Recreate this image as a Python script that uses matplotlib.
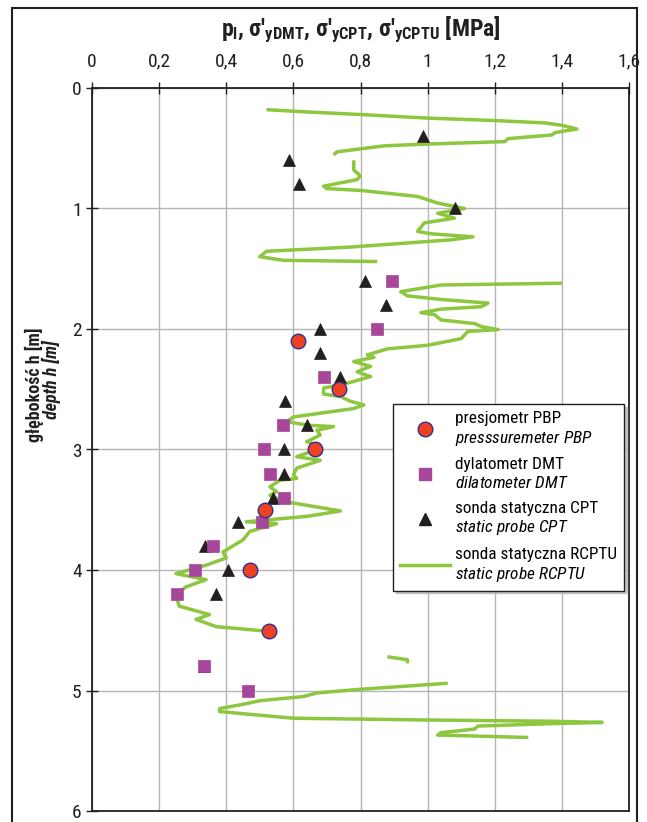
import matplotlib
matplotlib.use('Agg')
import matplotlib.pyplot as plt
from matplotlib.lines import Line2D
from matplotlib.patches import Rectangle

FONT = ['Roboto Condensed', 'DejaVu Sans']
plt.rcParams['font.family'] = FONT
plt.rcParams['mathtext.fontset'] = 'custom'
plt.rcParams['mathtext.rm'] = 'Roboto Condensed'
plt.rcParams['mathtext.it'] = 'Roboto Condensed:italic'
plt.rcParams['mathtext.bf'] = 'Roboto Condensed:bold'

# ---------------- data ----------------
xticks = [0, 0.2, 0.4, 0.6, 0.8, 1.0, 1.2, 1.4, 1.6]
xtick_labels = ['0', '0,2', '0,4', '0,6', '0,8', '1', '1,2', '1,4', '1,6']
yticks = [0, 1, 2, 3, 4, 5, 6]
ytick_labels = ['0', '1', '2', '3', '4', '5', '6']

pbp_depth = [2.1, 2.5, 3.0, 3.5, 4.0, 4.51]
pbp_value = [0.615, 0.737, 0.665, 0.514, 0.472, 0.527]

dmt_depth = [1.6, 2.0, 2.4, 2.8, 3.0, 3.2, 3.4, 3.6, 3.8, 4.0, 4.2, 4.8, 5.0]
dmt_value = [0.895, 0.85, 0.69, 0.57, 0.513, 0.53, 0.572, 0.507, 0.362, 0.308, 0.254, 0.335, 0.465]

cpt_depth = [0.4, 0.6, 0.8, 1.0, 1.6, 1.8, 2.0, 2.2, 2.4, 2.6, 2.8, 3.0, 3.2, 3.4, 3.6, 3.8, 4.0, 4.2, 4.8]
cpt_value = [0.987, 0.587, 0.618, 1.083, 0.814, 0.877, 0.678, 0.678, 0.740, 0.576, 0.641, 0.572, 0.572,
             0.538, 0.435, 0.337, 0.404, 0.368, 0.335]

rcptu_h1 = [0.18, 0.20, 0.22, 0.25, 0.27, 0.29, 0.31, 0.34, 0.37, 0.39, 0.42, 0.445, 0.465, 0.48, 0.53, 0.555]
rcptu_v1 = [0.52, 0.65, 0.80, 1.00, 1.20, 1.35, 1.40, 1.445, 1.38, 1.37, 1.24, 1.23, 1.00, 0.87, 0.73, 0.72]

rcptu_h2 = [0.60, 0.68, 0.73, 0.76, 0.815, 0.835, 0.85, 0.90, 0.955, 1.0, 1.04, 1.08, 1.12, 1.19, 1.21,
            1.235, 1.26, 1.32, 1.355, 1.40, 1.43, 1.44]
rcptu_v2 = [0.78, 0.78, 0.80, 0.79, 0.69, 0.70, 0.80, 0.97, 1.03, 1.11, 1.03, 1.08, 0.99, 0.97, 1.01,
            1.135, 1.07, 0.77, 0.52, 0.50, 0.57, 0.85]

rcptu_h3 = [1.62, 1.635, 1.69, 1.725, 1.755, 1.785, 1.815, 1.835, 1.865, 1.88, 1.925, 1.955, 1.98, 2.005,
            2.02, 2.08, 2.135, 2.165, 2.215, 2.235, 2.27, 2.31, 2.355, 2.395, 2.45, 2.49, 2.54, 2.56,
            2.60, 2.63, 2.66, 2.73, 2.77, 2.80, 2.81, 2.84, 2.88, 2.935, 2.965, 3.0, 3.03, 3.06, 3.09,
            3.155, 3.21, 3.24, 3.255, 3.31, 3.35, 3.38, 3.43, 3.51, 3.555, 3.60, 3.615, 3.64, 3.68,
            3.75, 3.85, 3.90, 3.96, 4.03, 4.08, 4.14, 4.21, 4.30, 4.37, 4.41, 4.47, 4.505]
rcptu_v3 = [1.40, 1.04, 0.92, 0.94, 1.04, 1.18, 1.16, 1.04, 0.98, 1.02, 1.04, 1.14, 1.16, 1.21,
            1.12, 1.10, 1.00, 0.88, 0.82, 0.84, 0.78, 0.83, 0.79, 0.83, 0.76, 0.69, 0.69, 0.74,
            0.77, 0.81, 0.78, 0.60, 0.58, 0.65, 0.72, 0.67, 0.68, 0.64, 0.67, 0.66, 0.64, 0.61, 0.68,
            0.61, 0.60, 0.61, 0.56, 0.53, 0.55, 0.53, 0.57, 0.74, 0.64, 0.46, 0.55, 0.52, 0.47,
            0.45, 0.39, 0.40, 0.34, 0.25, 0.34, 0.28, 0.25, 0.26, 0.35, 0.31, 0.37, 0.51]

rcptu_h4 = [4.72, 4.745, 4.775]
rcptu_v4 = [0.88, 0.94, 0.94]

rcptu_h5 = [4.94, 4.99, 5.02, 5.05, 5.085, 5.12, 5.15, 5.175, 5.21, 5.23, 5.245, 5.255, 5.265, 5.275,
            5.295, 5.32, 5.35, 5.37, 5.38, 5.39]
rcptu_v5 = [1.06, 0.80, 0.67, 0.63, 0.50, 0.44, 0.38, 0.38, 0.52, 0.60, 1.00, 1.37, 1.52, 1.37,
            1.15, 1.14, 1.04, 1.03, 1.17, 1.30]

rcptu_segments = [(rcptu_v1, rcptu_h1), (rcptu_v2, rcptu_h2), (rcptu_v3, rcptu_h3),
                  (rcptu_v4, rcptu_h4), (rcptu_v5, rcptu_h5)]

labels = ["presjometr PBP\n$\\mathit{presssuremeter\\ PBP}$",
          "dylatometr DMT\n$\\mathit{dilatometer\\ DMT}$",
          "sonda statyczna CPT\n$\\mathit{static\\ probe\\ CPT}$",
          "sonda statyczna RCPTU\n$\\mathit{static\\ probe\\ RCPTU}$"]

# ---------------- styles ----------------
GREEN = '#8dc63f'
RED = '#ee4023'
BLUE = '#2e3192'
PURPLE = '#a6479b'
BLACK = '#231f20'
GRID = '#b5b5b5'

W, H = 647, 822
fig = plt.figure(figsize=(W / 100, H / 100), dpi=100)
ax = fig.add_axes([92 / W, 1 - 811 / H, (629 - 92) / W, (811 - 88) / H])

ax.set_xlim(0, 1.6)
ax.set_ylim(6, 0)
ax.set_xticks(xticks)
ax.set_xticklabels(xtick_labels)
ax.set_yticks(yticks)
ax.set_yticklabels(ytick_labels)
ax.xaxis.tick_top()
ax.tick_params(axis='x', direction='inout', length=9, width=1, pad=8, labelsize=14, color=BLACK,
               labelcolor=BLACK)
ax.tick_params(axis='y', direction='inout', length=9, width=1, pad=3, labelsize=14, color=BLACK,
               labelcolor=BLACK)
ax.grid(True, color=GRID, lw=1.0)
ax.set_axisbelow(True)
for s in ax.spines.values():
    s.set_color(BLACK)
    s.set_linewidth(1.3)

for v, h in rcptu_segments:
    ax.plot(v, h, color=GREEN, lw=2.5, solid_joinstyle='round', solid_capstyle='butt', zorder=2)

ax.plot(cpt_value, cpt_depth, ls='none', marker='^', ms=9, mfc=BLACK, mec=BLACK, mew=0.5, zorder=3)
ax.plot(dmt_value, dmt_depth, ls='none', marker='s', ms=8, mfc=PURPLE, mec=PURPLE, mew=0.5, zorder=3)
ax.plot(pbp_value, pbp_depth, ls='none', marker='o', ms=10.5, mfc=RED, mec=BLUE, mew=1.0, zorder=4)

handles = [
    Line2D([], [], ls='none', marker='o', ms=10.5, mfc=RED, mec=BLUE, mew=1.0),
    Line2D([], [], ls='none', marker='s', ms=8, mfc=PURPLE, mec=PURPLE),
    Line2D([], [], ls='none', marker='^', ms=9, mfc=BLACK, mec=BLACK),
    Line2D([], [], color=GREEN, lw=2.5),
]
leg = ax.legend(handles, labels, loc='upper left', bbox_to_anchor=(0.5605, 0.563),
                frameon=True, fancybox=False, shadow={'color': '0.7', 'alpha': 0.7},
                fontsize=12.4, borderpad=0.4, labelspacing=0.56, handlelength=2.9,
                handletextpad=0.3, borderaxespad=0)
leg.get_frame().set_edgecolor(BLACK)
leg.get_frame().set_linewidth(1.0)
leg.get_frame().set_alpha(1)

# title
fig.text((92 + 629) / 2 / W, 1 - 30 / H,
         "p$_{\\mathbf{l}}$, σ'$_{\\mathbf{yDMT}}$, σ'$_{\\mathbf{yCPT}}$, σ'$_{\\mathbf{yCPTU}}$ [MPa]",
         ha='center', va='center', fontsize=17, fontweight='bold', color=BLACK)

# y label (two lines)
fig.text(34 / W, 1 - 385 / H, "głębokość h [m]", rotation=90, ha='center', va='center',
         fontsize=13, fontweight='bold', color=BLACK)
fig.text(51.5 / W, 1 - 380 / H, "depth h [m]", rotation=90, ha='center', va='center',
         fontsize=13, fontweight='bold', fontstyle='italic', color=BLACK)

# outer frame
fig.add_artist(Rectangle((12 / W, -0.05), (637 - 12) / W, 1 - 8 / H + 0.05,
                         transform=fig.transFigure, fill=False, lw=1.5, ec=BLACK))

fig.savefig('out.png', dpi=100)
